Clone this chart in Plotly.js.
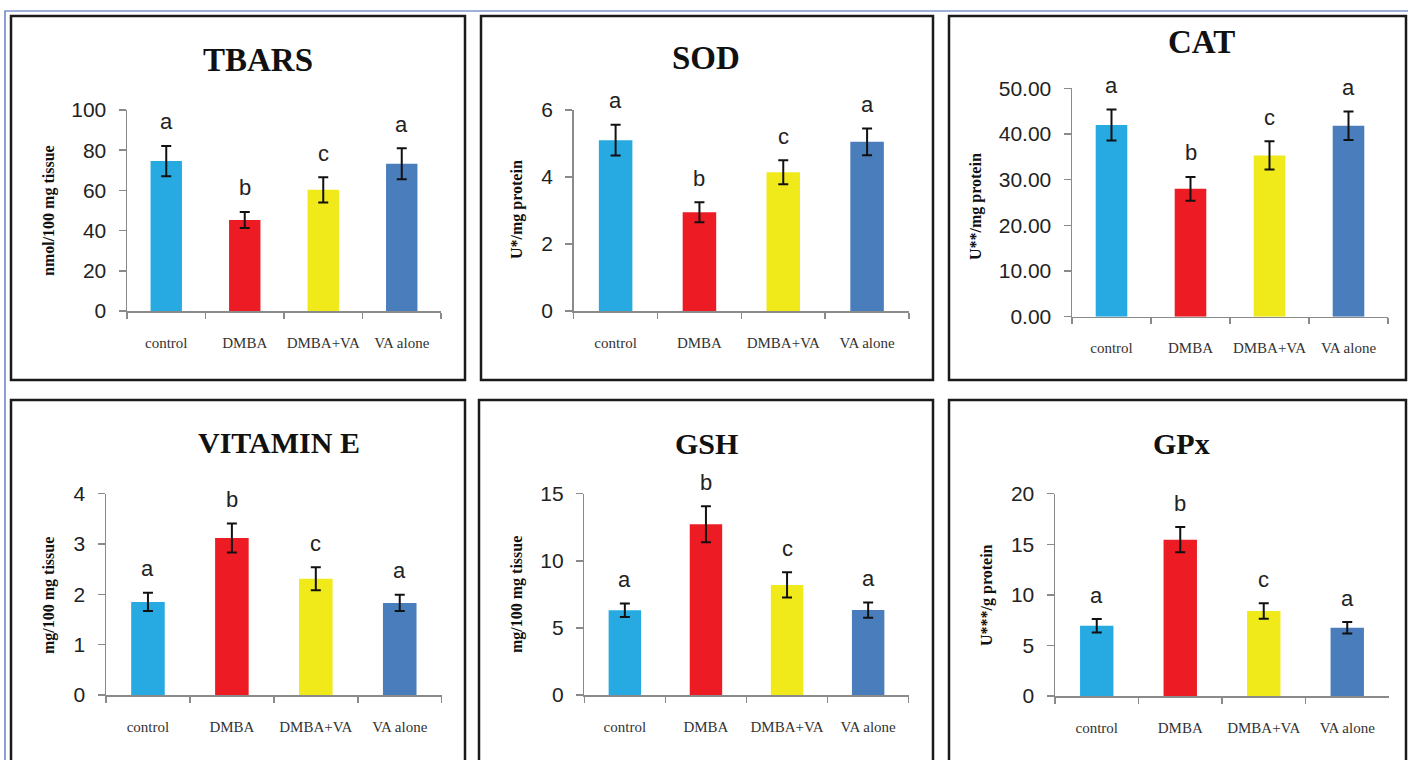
<!DOCTYPE html>
<html><head><meta charset="utf-8">
<script src="https://cdn.plot.ly/plotly-3.0.1.min.js"></script>
<style>html,body{margin:0;padding:0;background:#fff}#chart{width:1408px;height:760px}</style>
</head><body><div id="chart"></div>
<script>
// ---- data ----
const categories = ["control", "DMBA", "DMBA+VA", "VA alone"];
const barColors = ["#27aae1", "#ed1c24", "#f1ea1b", "#4a7dbb"];

const tbarsMean = [74.6, 45.3, 60.3, 73.3];
const tbarsErr = [7.5, 4.0, 6.3, 7.7];
const tbarsLetters = ["a", "b", "c", "a"];

const sodMean = [5.10, 2.95, 4.14, 5.05];
const sodErr = [0.46, 0.30, 0.36, 0.40];
const sodLetters = ["a", "b", "c", "a"];

const catMean = [41.96, 28.0, 35.3, 41.8];
const catErr = [3.4, 2.6, 3.1, 3.1];
const catLetters = ["a", "b", "c", "a"];

const vitEMean = [1.85, 3.12, 2.31, 1.83];
const vitEErr = [0.18, 0.29, 0.23, 0.16];
const vitELetters = ["a", "b", "c", "a"];

const gshMean = [6.31, 12.72, 8.2, 6.33];
const gshErr = [0.5, 1.34, 0.94, 0.57];
const gshLetters = ["a", "b", "c", "a"];

const gpxMean = [6.95, 15.45, 8.4, 6.75];
const gpxErr = [0.66, 1.25, 0.76, 0.56];
const gpxLetters = ["a", "b", "c", "a"];

// ---- layout config (pixels) ----
const W = 1408, H = 760;
const panels = [
  {title: "TBARS", ytitle: "nmol/100 mg tissue", mean: tbarsMean, err: tbarsErr, letters: tbarsLetters,
   ymax: 100, dtick: 20, fmt: "", ax: [127, 441], ay: [311, 110], box: [11, 16, 465, 380],
   tpos: [258, 60], tsize: 33, ypos: [49, 210]},
  {title: "SOD", ytitle: "U*/mg protein", mean: sodMean, err: sodErr, letters: sodLetters,
   ymax: 6, dtick: 2, fmt: "", ax: [573.7, 909], ay: [311, 110], box: [481, 16, 933, 380],
   tpos: [706, 58], tsize: 33, ypos: [517, 210]},
  {title: "CAT", ytitle: "U**/mg protein", mean: catMean, err: catErr, letters: catLetters,
   ymax: 50, dtick: 10, fmt: ".2f", ax: [1072, 1388], ay: [316.7, 88.3], box: [949, 16, 1406, 380],
   tpos: [1201, 42], tsize: 33, ypos: [976, 207]},
  {title: "VITAMIN E", ytitle: "mg/100 mg tissue", mean: vitEMean, err: vitEErr, letters: vitELetters,
   ymax: 4, dtick: 1, fmt: "", ax: [106, 441.7], ay: [695, 493.7], box: [11, 400, 465, 790],
   tpos: [279, 442], tsize: 30, ypos: [49, 595]},
  {title: "GSH", ytitle: "mg/100 mg tissue", mean: gshMean, err: gshErr, letters: gshLetters,
   ymax: 15, dtick: 5, fmt: "", ax: [584.3, 908.7], ay: [695, 493.7], box: [479, 400, 933, 790],
   tpos: [706, 443], tsize: 30, ypos: [517, 595]},
  {title: "GPx", ytitle: "U***/g protein", mean: gpxMean, err: gpxErr, letters: gpxLetters,
   ymax: 20, dtick: 5, fmt: "", ax: [1055, 1389], ay: [696, 493.7], box: [949, 400, 1406, 790],
   tpos: [1181, 443], tsize: 30, ypos: [987, 595]}
];

const px = v => v / W;
const py = v => 1 - v / H;
const serif = "Liberation Serif, Times New Roman, serif";
const sans = "Liberation Sans, Arial, sans-serif";
const axisGray = "#8a8a8a";

const traces = [];
const layout = {
  width: W, height: H, margin: {l: 0, r: 0, t: 0, b: 0},
  paper_bgcolor: "#ffffff", plot_bgcolor: "rgba(0,0,0,0)",
  showlegend: false, annotations: [], shapes: []
};

// outer thin blue frame
layout.shapes.push({type: "rect", xref: "paper", yref: "paper",
  x0: px(5), x1: px(1430), y0: py(790), y1: py(11),
  line: {color: "#3f62b5", width: 1.2}});

panels.forEach((p, i) => {
  const n = i + 1;
  const xa = "x" + (n === 1 ? "" : n), ya = "y" + (n === 1 ? "" : n);
  const xkey = "xaxis" + (n === 1 ? "" : n), ykey = "yaxis" + (n === 1 ? "" : n);
  traces.push({
    type: "bar", x: categories, y: p.mean, xaxis: xa, yaxis: ya, width: 0.4,
    marker: {color: barColors, line: {width: 0}},
    error_y: {type: "data", array: p.err, visible: true, color: "#111", thickness: 2, width: 5},
    hoverinfo: "x+y"
  });
  layout[xkey] = {
    domain: [px(p.ax[0]), px(p.ax[1])], anchor: ya, type: "category",
    range: [-0.5, 3.5], showline: true, linecolor: axisGray, linewidth: 1.5,
    ticks: "outside", tickson: "boundaries", ticklen: 6, tickcolor: axisGray, tickwidth: 1.5,
    showgrid: false, zeroline: false, ticklabelstandoff: 17, tickangle: 0,
    tickfont: {family: serif, size: 15, color: "#333"}, fixedrange: true
  };
  layout[ykey] = {
    domain: [py(p.ay[0]), py(p.ay[1])], anchor: xa, range: [0, p.ymax], dtick: p.dtick, tick0: 0,
    tickformat: p.fmt, showline: true, linecolor: axisGray, linewidth: 1.5,
    ticks: "outside", ticklen: 7, tickcolor: axisGray, tickwidth: 1.5,
    showgrid: false, zeroline: false, ticklabelstandoff: 8,
    tickfont: {family: sans, size: 21, color: "#222"}, fixedrange: true
  };
  // significance letters above error bars
  categories.forEach((c, k) => {
    layout.annotations.push({
      xref: xa, yref: ya, x: c, y: p.mean[k] + p.err[k], text: p.letters[k],
      showarrow: false, yanchor: "middle", yshift: 24,
      font: {family: sans, size: 22, color: "#222"}
    });
  });
  // panel title
  layout.annotations.push({
    xref: "paper", yref: "paper", x: px(p.tpos[0]), y: py(p.tpos[1]), text: "<b>" + p.title + "</b>",
    showarrow: false, xanchor: "center", yanchor: "middle",
    font: {family: serif, size: p.tsize, color: "#111"}
  });
  // y-axis title
  layout.annotations.push({
    xref: "paper", yref: "paper", x: px(p.ypos[0]), y: py(p.ypos[1]), text: "<b>" + p.ytitle + "</b>",
    showarrow: false, xanchor: "center", yanchor: "middle", textangle: -90,
    font: {family: serif, size: 16, color: "#111"}
  });
  // panel border
  layout.shapes.push({type: "rect", xref: "paper", yref: "paper",
    x0: px(p.box[0]), x1: px(p.box[2]), y0: py(p.box[3]), y1: py(p.box[1]),
    line: {color: "#1a1a1a", width: 2.5}});
});

Plotly.newPlot("chart", traces, layout, {displayModeBar: false, staticPlot: true});
</script></body></html>
